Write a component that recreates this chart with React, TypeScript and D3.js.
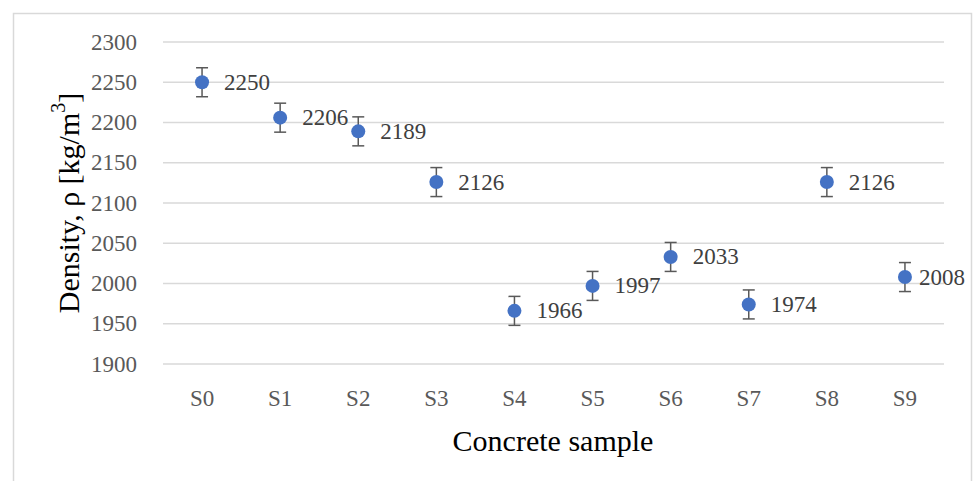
import React from "react";
import * as d3 from "d3";

const samples = ["S0", "S1", "S2", "S3", "S4", "S5", "S6", "S7", "S8", "S9"];
const density = [2250, 2206, 2189, 2126, 1966, 1997, 2033, 1974, 2126, 2008];
const errorHalf = [18, 18, 18, 18, 18, 18, 18, 18, 18, 18];
const yTicks = [1900, 1950, 2000, 2050, 2100, 2150, 2200, 2250, 2300];

const W = 973;
const H = 481;
const plot = { left: 163, right: 944, top: 42, bottom: 364 };
const font = "'Liberation Serif', 'Times New Roman', serif";

export default function App() {
  const x = d3.scaleBand<string>().domain(samples).range([plot.left, plot.right]);
  const y = d3.scaleLinear().domain([1900, 2300]).range([plot.bottom, plot.top]);
  const labelW = 47;
  const labelLimit = 966;

  return (
    <svg
      width={W}
      height={H}
      style={{ position: "absolute", left: 0, top: 0, background: "#fff" }}
    >
      <rect x={13.5} y={13.5} width={958} height={480} fill="#fff" stroke="#d9d9d9" strokeWidth={1.5} />
      {yTicks.map((t) => (
        <g key={t}>
          <line x1={plot.left} x2={plot.right} y1={y(t)} y2={y(t)} stroke="#d9d9d9" strokeWidth={1.5} />
          <text
            x={137}
            y={y(t)}
            textAnchor="end"
            dominantBaseline="central"
            fontFamily={font}
            fontSize={23}
            fill="#595959"
          >
            {t}
          </text>
        </g>
      ))}
      {samples.map((s) => (
        <text
          key={s}
          x={(x(s) ?? 0) + x.bandwidth() / 2}
          y={398}
          textAnchor="middle"
          dominantBaseline="central"
          fontFamily={font}
          fontSize={23}
          fill="#595959"
        >
          {s}
        </text>
      ))}
      {samples.map((s, i) => {
        const cx = (x(s) ?? 0) + x.bandwidth() / 2;
        const cy = y(density[i]);
        const top = y(density[i] + errorHalf[i]);
        const bot = y(density[i] - errorHalf[i]);
        const lx = Math.min(cx + 22, labelLimit - labelW);
        return (
          <g key={s}>
            <line x1={cx} x2={cx} y1={top} y2={bot} stroke="#595959" strokeWidth={1.5} />
            <line x1={cx - 6} x2={cx + 6} y1={top} y2={top} stroke="#595959" strokeWidth={1.5} />
            <line x1={cx - 6} x2={cx + 6} y1={bot} y2={bot} stroke="#595959" strokeWidth={1.5} />
            <circle cx={cx} cy={cy} r={7} fill="#4472C4" />
            <text
              x={lx}
              y={cy}
              dominantBaseline="central"
              fontFamily={font}
              fontSize={23}
              fill="#404040"
            >
              {density[i]}
            </text>
          </g>
        );
      })}
      <text
        x={553}
        y={440}
        textAnchor="middle"
        dominantBaseline="central"
        fontFamily={font}
        fontSize={30}
        fill="#000"
      >
        Concrete sample
      </text>
      <text
        transform={`translate(68, ${(plot.top + plot.bottom) / 2}) rotate(-90)`}
        textAnchor="middle"
        dominantBaseline="central"
        fontFamily={font}
        fontSize={30}
        fill="#000"
      >
        Density, ρ [kg/m
        <tspan dy={-10} fontSize={20}>3</tspan>
        <tspan dy={10}>]</tspan>
      </text>
    </svg>
  );
}
